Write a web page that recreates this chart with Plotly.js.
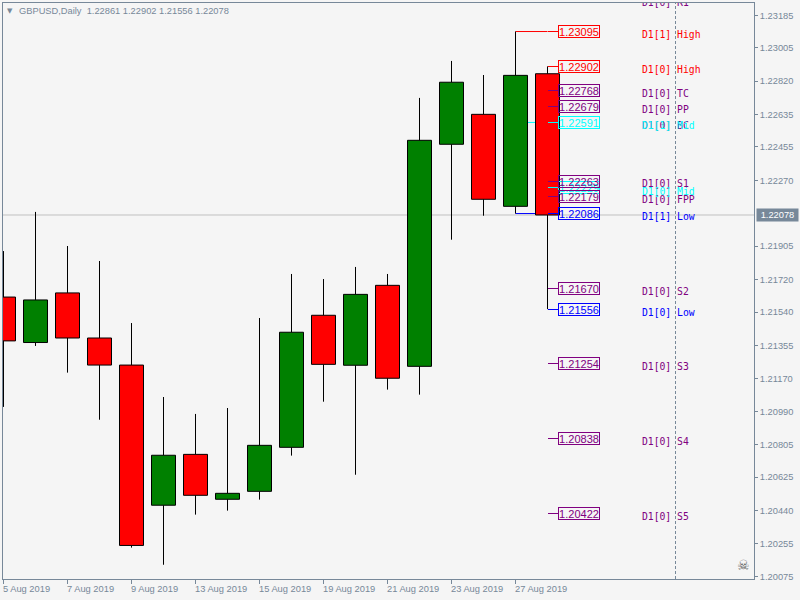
<!DOCTYPE html>
<html>
<head>
<meta charset="utf-8">
<script src="https://cdn.plot.ly/plotly-3.0.1.min.js"></script>
<style>
html,body{margin:0;padding:0;background:#f5f5f5;overflow:hidden}
.scatterlayer .js-line{shape-rendering:crispEdges}
</style>
</head>
<body>
<div id="chart" style="width:800px;height:600px"></div>
<script>
// Daily candles (bar index 0..17)
var barDates = ['5 Aug 2019','6 Aug 2019','7 Aug 2019','8 Aug 2019','9 Aug 2019','12 Aug 2019','13 Aug 2019','14 Aug 2019','15 Aug 2019','16 Aug 2019','19 Aug 2019','20 Aug 2019','21 Aug 2019','22 Aug 2019','23 Aug 2019','26 Aug 2019','27 Aug 2019','28 Aug 2019'];
var opens  = [1.21623,1.21371,1.21646,1.21396,1.21246,1.20469,1.20751,1.20502,1.20546,1.20790,1.21522,1.21245,1.21688,1.21239,1.22470,1.22636,1.22126,1.22861];
var highs  = [1.21878,1.22095,1.21906,1.21823,1.21479,1.21069,1.20975,1.21008,1.21507,1.21751,1.21723,1.21790,1.21751,1.22727,1.22932,1.22854,1.23095,1.22902];
var lows   = [1.21014,1.21352,1.21204,1.20943,1.20234,1.20139,1.20417,1.20439,1.20500,1.20744,1.21043,1.20638,1.21110,1.21082,1.21941,1.22074,1.22086,1.21556];
var closes = [1.21380,1.21607,1.21396,1.21246,1.20246,1.20746,1.20524,1.20535,1.20801,1.21428,1.21250,1.21638,1.21173,1.22492,1.22814,1.22165,1.22852,1.22078];

// Pivot levels, in drawing order
var levelNames  = ['D1[0] R1','D1[1] High','D1[0] High','D1[0] TC','D1[0] PP','D1[0] BC','D1[1] Mid','D1[0] S1','D1[0] FPP','D1[0] Mid','D1[1] Low','D1[0] S2','D1[0] Low','D1[0] S3','D1[0] S4','D1[0] S5'];
var levelValues = [1.23270,1.23095,1.22902,1.22768,1.22679,1.22591,1.22591,1.22263,1.22179,1.22229,1.22086,1.21670,1.21556,1.21254,1.20838,1.20422];
var levelColors = ['#800080','#ff0000','#ff0000','#800080','#800080','#800080','#00ffff','#800080','#800080','#00ffff','#0000ff','#800080','#0000ff','#800080','#800080','#800080'];
var levelBars   = [17,16,17,17,17,17,16,17,17,17,16,17,17,17,17,17];

// Axis labels
var priceTicks = [1.23185,1.23005,1.22820,1.22635,1.22455,1.22270,1.21905,1.21720,1.21540,1.21355,1.21170,1.20990,1.20805,1.20625,1.20440,1.20255,1.20075];
var dateTickBars = [0,2,4,6,8,10,12,14,16];
var bidPrice = 1.22078;
var headerText = 'GBPUSD,Daily\u00a0\u00a01.22861 1.22902 1.21556 1.22078';

// Layout constants
var W = 800, H = 600, mL = 3, mR = 46, mT = 3, mB = 21;
var plotW = W - mL - mR, plotH = H - mT - mB;
var pxPerBar = 32, pxPerPrice = 18039;
var xRange = [-0.5/pxPerBar, (plotW - 0.5)/pxPerBar];
var yTop = 1.23185 + 12.3/pxPerPrice, yBottom = 1.20075 - 2.7/pxPerPrice;
var axisColor = '#778899';
var labelFont = 'Liberation Sans, Arial, sans-serif';
var labelStartBar = 17.34, nameBar = 19.95, cursorBar = 21;

function nameDropPx(name){
  if (name === 'D1[0] S1') return 3.2;
  if (name === 'D1[0] Mid') return 5.2;
  return 4;
}
function paperX(px){return (px - mL)/plotW;}
function paperY(px){return 1 - (px - mT)/plotH;}

var traces = [{
  type:'candlestick', x:barDates.map(function(d,i){return i;}),
  open:opens, high:highs, low:lows, close:closes,
  whiskerwidth:0, hoverinfo:'skip', showlegend:false,
  increasing:{fillcolor:'#008000', line:{color:'#000000', width:1}},
  decreasing:{fillcolor:'#ff0000', line:{color:'#000000', width:1}}
}];

var shapes = [
  {type:'line', layer:'below', xref:'paper', yref:'y', x0:0, x1:1, y0:bidPrice, y1:bidPrice, line:{color:'#c0c0c0', width:1}},
  {type:'line', layer:'below', xref:'x', yref:'paper', x0:cursorBar, x1:cursorBar, y0:0, y1:1, line:{color:axisColor, width:1, dash:'3px,2px'}}
];

var annotations = [];

// Boxes are stacked so the cyan D1[0] Mid box sits beneath S1 and FPP
var boxOrder = levelNames.map(function(n,i){return i;}).sort(function(a,b){
  return (levelNames[b]==='D1[0] Mid') - (levelNames[a]==='D1[0] Mid');
});
boxOrder.forEach(function(i){
  var v = levelValues[i], c = levelColors[i], bar = levelBars[i];
  if (bar === 16) {
    shapes.push({type:'line', layer:'below', xref:'x', yref:'y', x0:16, x1:17, y0:v, y1:v, line:{color:c, width:1}});
  }
  var covered = levelValues[i+1] === v;
  if (v <= yTop && !covered) {
    traces.push({type:'scatter', mode:'lines', x:[17.03, labelStartBar], y:[v,v], line:{color:c, width:1}, hoverinfo:'skip', showlegend:false});
    annotations.push({xref:'x', yref:'y', x:labelStartBar, y:v, xanchor:'left', yanchor:'middle', showarrow:false,
      text:v.toFixed(5), font:{family:labelFont, size:11, color:c}, bordercolor:c, borderwidth:1, borderpad:0, width:40, height:11, align:'center'});
  }
});

traces.push({type:'scatter', mode:'text', cliponaxis:true,
  x:levelNames.map(function(){return nameBar;}),
  y:levelValues.map(function(v,i){return v - nameDropPx(levelNames[i])/pxPerPrice;}),
  text:levelNames, textposition:'middle right',
  textfont:{family:'DejaVu Sans Mono, monospace', size:9.75, color:levelColors},
  hoverinfo:'skip', showlegend:false});

dateTickBars.forEach(function(b){
  annotations.push({xref:'x', yref:'paper', x:b, y:paperY(589), xanchor:'left', yanchor:'middle', xshift:-2, showarrow:false,
    text:barDates[b], font:{family:labelFont, size:9.3, color:axisColor}, borderpad:0});
});

annotations.push({xref:'paper', yref:'paper', x:paperX(18), y:paperY(10.5), xanchor:'left', yanchor:'middle', showarrow:false,
  text:headerText, font:{family:labelFont, size:9.3, color:axisColor}, borderpad:0});
annotations.push({xref:'paper', yref:'paper', x:paperX(9.5), y:paperY(10.5), xanchor:'center', yanchor:'middle', showarrow:false,
  text:'\u25BC', font:{family:'DejaVu Sans, sans-serif', size:7, color:axisColor}, borderpad:0});
annotations.push({xref:'paper', yref:'paper', x:paperX(743.5), y:paperY(565), xanchor:'center', yanchor:'middle', showarrow:false,
  text:'\u2620', font:{family:'DejaVu Sans, sans-serif', size:14, color:'#606060'}, borderpad:0});
annotations.push({xref:'paper', yref:'y', x:paperX(756), y:bidPrice, xanchor:'left', yanchor:'middle', showarrow:false,
  text:bidPrice.toFixed(5), font:{family:labelFont, size:9.3, color:'#ffffff'}, bgcolor:axisColor, borderpad:0, width:41, height:12, align:'center'});

var layout = {
  width:W, height:H, margin:{l:mL, r:mR, t:mT, b:mB, pad:0},
  paper_bgcolor:'#f5f5f5', plot_bgcolor:'#f5f5f5',
  showlegend:false, boxgap:0.25, boxgroupgap:0, hovermode:false, dragmode:false,
  xaxis:{type:'linear', range:xRange, autorange:false, fixedrange:true, showgrid:false, zeroline:false,
    rangeslider:{visible:false}, showline:true, linecolor:axisColor, linewidth:1, mirror:true,
    tickmode:'array', tickvals:dateTickBars, ticks:'outside', ticklen:4, tickwidth:1, tickcolor:axisColor, showticklabels:false},
  yaxis:{type:'linear', side:'right', range:[yBottom,yTop], autorange:false, fixedrange:true, showgrid:false, zeroline:false,
    showline:true, linecolor:axisColor, linewidth:1, mirror:true,
    tickmode:'array', tickvals:priceTicks, ticktext:priceTicks.map(function(v){return v.toFixed(5);}),
    ticks:'outside', ticklen:3, tickwidth:1, tickcolor:axisColor,
    tickfont:{family:labelFont, size:9.3, color:axisColor}},
  shapes:shapes, annotations:annotations
};

Plotly.newPlot('chart', traces, layout, {staticPlot:true, displayModeBar:false}).then(function(){
  // A candle's median stroke lands one pixel off its body edge: drop that sub-path
  document.querySelectorAll('.boxlayer path.box').forEach(function(p){
    p.setAttribute('d', p.getAttribute('d').replace(/^M[^M]*/, ''));
  });
});
</script>
</body>
</html>
